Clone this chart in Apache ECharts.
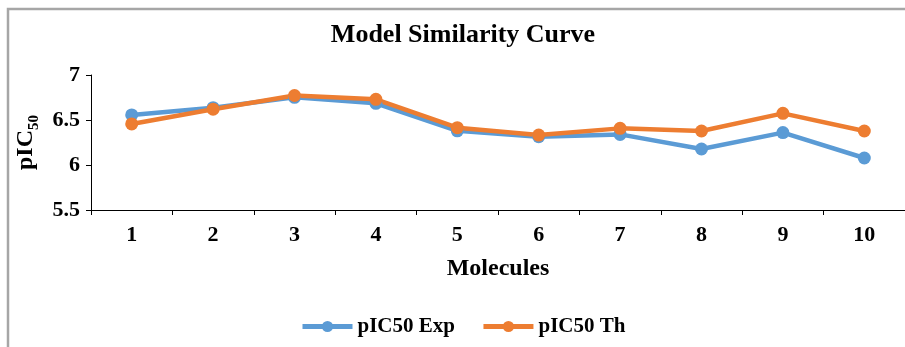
<!DOCTYPE html>
<html>
<head>
<meta charset="utf-8">
<title>Model Similarity Curve</title>
<script src="https://cdn.jsdelivr.net/npm/echarts@6/dist/echarts.min.js"></script>
<style>
  html, body { margin: 0; padding: 0; background: #fff; }
  #chart { width: 905px; height: 347px; }
</style>
</head>
<body>
<div id="chart"></div>
<script>
  // data
  const molecules = ['1', '2', '3', '4', '5', '6', '7', '8', '9', '10'];
  const pic50Exp = [6.556, 6.637, 6.752, 6.685, 6.38, 6.315, 6.34, 6.178, 6.36, 6.078];
  const pic50Th = [6.456, 6.62, 6.772, 6.73, 6.415, 6.333, 6.407, 6.378, 6.574, 6.378];
  const yTicks = [5.5, 6, 6.5, 7];

  const font = 'Liberation Serif';
  const chart = echarts.init(document.getElementById('chart'));

  const makeSeries = (name, values, color) => ({
    name: name,
    type: 'line',
    data: values,
    symbol: 'circle',
    symbolSize: 13,
    lineStyle: { color: color, width: 4.5 },
    itemStyle: { color: color },
    animation: false
  });

  chart.setOption({
    backgroundColor: '#fff',
    graphic: [{
      type: 'rect',
      shape: { x: 8, y: 9, width: 1000, height: 400 },
      style: { fill: 'none', stroke: '#a6a6a6', lineWidth: 2.5 },
      silent: true
    }],
    title: {
      text: 'Model Similarity Curve',
      left: 458,
      textAlign: 'center',
      top: 17,
      textStyle: { fontFamily: font, fontWeight: 'bold', fontSize: 26, color: '#000' }
    },
    legend: {
      bottom: 5,
      left: 295,
      itemWidth: 50,
      itemHeight: 14,
      itemGap: 26,
      lineStyle: { width: 5 },
      textStyle: { fontFamily: font, fontWeight: 'bold', fontSize: 21, color: '#000' },
      data: ['pIC50 Exp', 'pIC50 Th']
    },
    grid: { left: 91, top: 75, right: -2, bottom: 137, containLabel: false },
    xAxis: {
      type: 'category',
      data: molecules,
      boundaryGap: true,
      name: 'Molecules',
      nameLocation: 'middle',
      nameGap: 47,
      nameTextStyle: { fontFamily: font, fontWeight: 'bold', fontSize: 24, color: '#000' },
      axisLine: { lineStyle: { color: '#000', width: 1 } },
      axisTick: { show: true, alignWithLabel: false, length: 5, lineStyle: { color: '#000' } },
      axisLabel: { fontFamily: font, fontWeight: 'bold', fontSize: 22, color: '#000', margin: 14 }
    },
    yAxis: {
      type: 'value',
      min: yTicks[0],
      max: yTicks[yTicks.length - 1],
      interval: 0.5,
      name: '{a|pIC}{b|50}',
      nameLocation: 'middle',
      nameRotate: 90,
      nameGap: 52,
      nameTextStyle: {
        rich: {
          a: { fontFamily: font, fontWeight: 'bold', fontSize: 24, color: '#000', verticalAlign: 'bottom' },
          b: { fontFamily: font, fontWeight: 'bold', fontSize: 15, color: '#000', verticalAlign: 'bottom', padding: [0, 0, -4, 0] }
        }
      },
      axisLine: { show: true, lineStyle: { color: '#000', width: 1 } },
      axisTick: { show: true, inside: false, length: 5, lineStyle: { color: '#000' } },
      splitLine: { show: false },
      axisLabel: { fontFamily: font, fontWeight: 'bold', fontSize: 22, color: '#000', margin: 11 }
    },
    series: [
      makeSeries('pIC50 Exp', pic50Exp, '#5b9bd5'),
      makeSeries('pIC50 Th', pic50Th, '#ed7d31')
    ]
  });
</script>
</body>
</html>
